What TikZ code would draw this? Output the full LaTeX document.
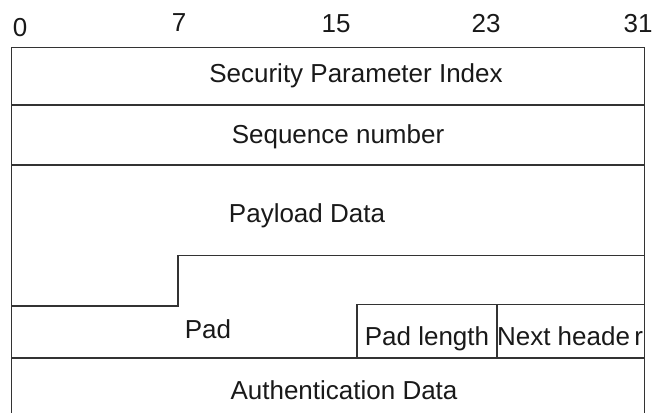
\documentclass[tikz,border=0pt]{standalone}
\usepackage{fontspec}
\setmainfont{Liberation Sans}
\begin{document}
\begin{tikzpicture}[x=1pt,y=-1pt,
  frame/.style={line width=1.6pt,color=black!80,line cap=rect},
  lbl/.style={font=\fontsize{26}{30}\selectfont,text=black!90,inner sep=0pt,anchor=base},
  num/.style={font=\fontsize{26}{30}\selectfont,text=black!90,inner sep=0pt,anchor=base}]
\useasboundingbox (0,0) rectangle (652,412);
% bit numbers
\node[num] (b0) at (20,37) {0};
\node[num] (b7) at (179,32) {7};
\node[num] (b15) at (336,33) {15};
\node[num] (b23) at (486,33) {23};
\node[num] (b31) at (638,33) {31};
% frame
\draw[frame] (11.5,412) -- (11.5,47.5) -- (644.5,47.5) -- (644.5,412);
\draw[frame] (11.5,105) -- (644.5,105);
\draw[frame] (11.5,165) -- (644.5,165);
\draw[frame] (644.5,255.5) -- (178,255.5) -- (178,306) -- (11.5,306);
\draw[frame] (357,358) -- (357,304.5) -- (644.5,304.5);
\draw[frame] (497,304.5) -- (497,358);
\draw[frame] (11.5,358) -- (644.5,358);
% labels
\node[lbl] (spi) at (356,82) {Security Parameter Index};
\node[lbl] (seq) at (338,143) {Sequence number};
\node[lbl] (pay) at (307,222) {Payload Data};
\node[lbl] (pad) at (208,338) {Pad};
\node[lbl] (padlen) at (427,345) {Pad length};
\node[lbl] (next) at (570,345) {Next heade\,r};
\node[lbl] (auth) at (344,399) {Authentication Data};
\end{tikzpicture}
\end{document}
